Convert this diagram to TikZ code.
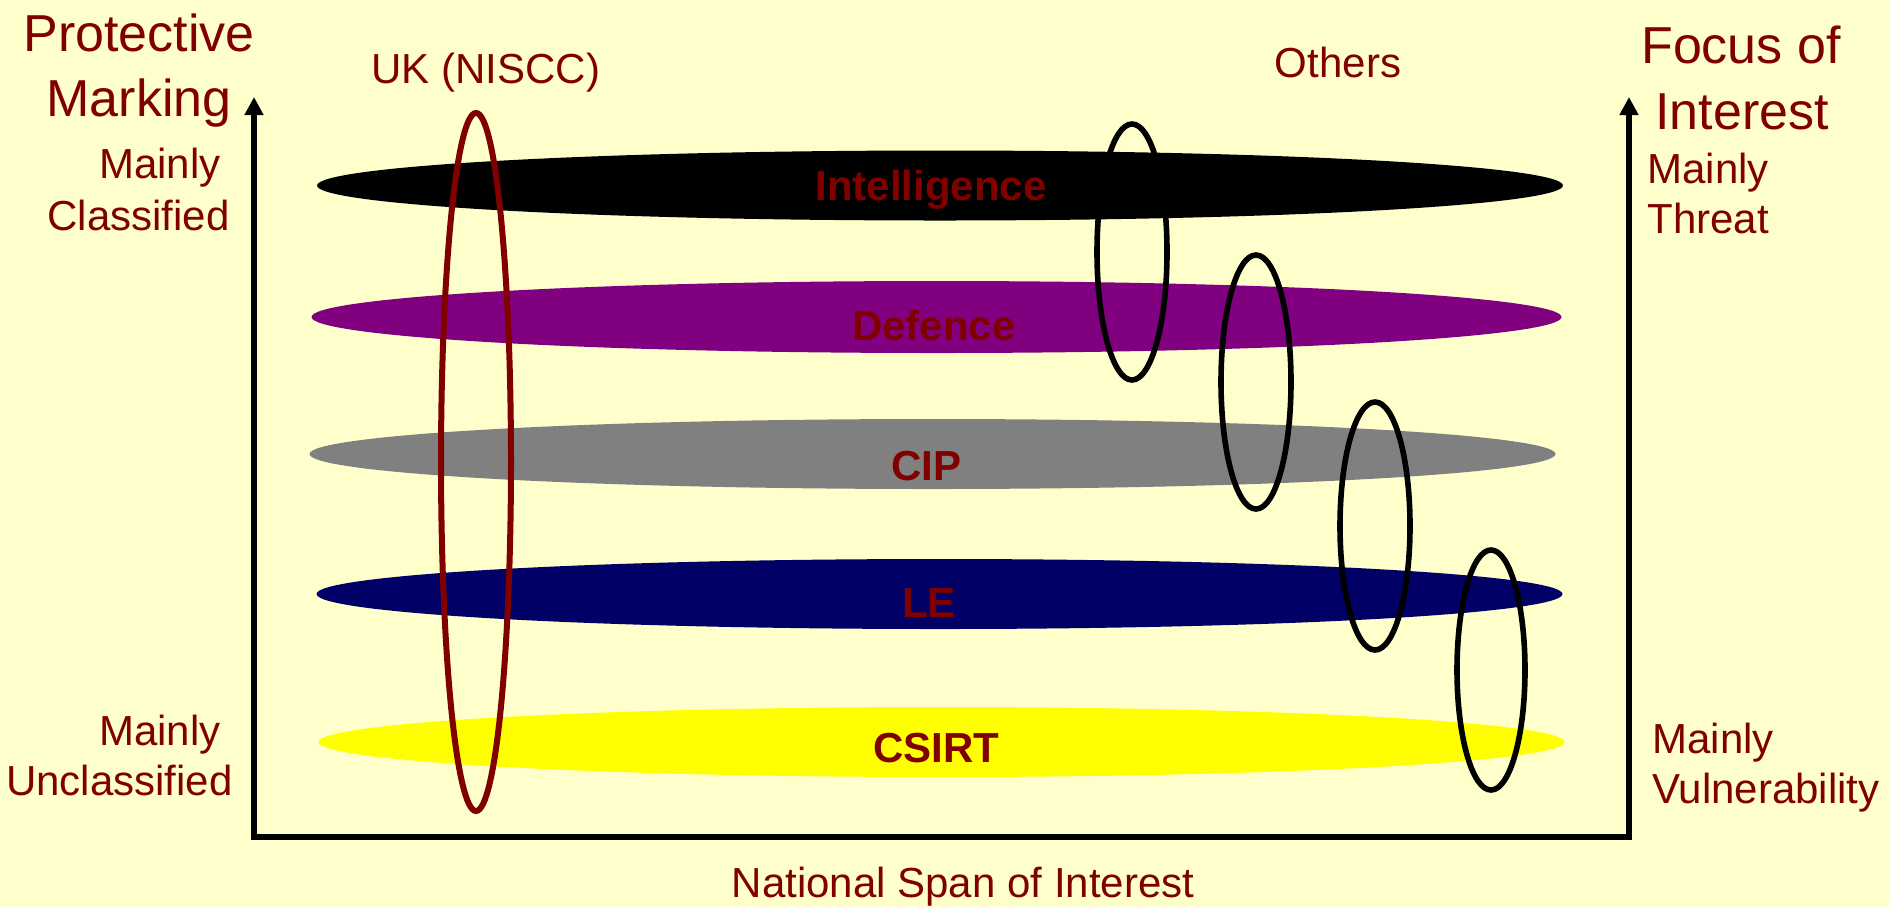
\documentclass[tikz,border=0pt]{standalone}
\usepackage{fontspec}
\setmainfont{Liberation Sans}
\usetikzlibrary{arrows.meta}
\definecolor{paper}{HTML}{FFFFCC}
\definecolor{darkred}{HTML}{800000}
\definecolor{defpurple}{HTML}{800080}
\definecolor{cipgray}{HTML}{808080}
\definecolor{lenavy}{HTML}{000066}
\definecolor{csirtyellow}{HTML}{FFFF00}
\tikzset{
  axisline/.style={line width=3pt, line join=miter,
    {Triangle[width=9pt,length=9pt]}-{Triangle[width=9pt,length=9pt]}},
  caption/.style={inner sep=0pt, text=darkred, font=\fontsize{21}{25}\selectfont},
  heading/.style={inner sep=0pt, text=darkred, font=\fontsize{26}{31}\selectfont},
  bandlabel/.style={inner sep=0pt, anchor=base, text=darkred, font=\fontsize{21}{25}\selectfont\bfseries},
  ring/.style={line width=2.8pt},
}
\begin{document}
\begin{tikzpicture}[x=0.5pt,y=-0.5pt]
\fill[paper] (0,0) rectangle (1889,907);
\useasboundingbox (0,0) rectangle (1889,907);

% horizontal bands
\fill[black]       (940,185.5) ellipse [x radius=311.5pt, y radius=17.5pt];
\fill[defpurple]   (936.5,317) ellipse [x radius=312.5pt, y radius=18pt];
\fill[cipgray]     (932.5,454) ellipse [x radius=311.5pt, y radius=17.5pt];
\fill[lenavy]      (939.5,594) ellipse [x radius=311.5pt, y radius=17.5pt];
\fill[csirtyellow] (941.5,742) ellipse [x radius=311.5pt, y radius=17.5pt];

% band labels
\node[bandlabel] (intel) at (931,200) {Intelligence};
\node[bandlabel] (defence) at (934,340) {Defence};
\node[bandlabel] (cip) at (926,480) {CIP};
\node[bandlabel] (le) at (929,617) {LE};
\node[bandlabel] (csirt) at (936,762) {CSIRT};

% national ring and the other rings
\draw[ring, line width=3pt, darkred] (476,462) ellipse [x radius=17.5pt, y radius=174.5pt];
\draw[ring, black] (1132,252) ellipse [x radius=17.5pt, y radius=64pt];
\draw[ring, black] (1256,382) ellipse [x radius=17.5pt, y radius=63.5pt];
\draw[ring, black] (1375,526) ellipse [x radius=17.5pt, y radius=62pt];
\draw[ring, black] (1491,670) ellipse [x radius=17pt, y radius=60pt];

% axes
\coordinate (origin) at (254,837);
\coordinate (ytop) at (254,97);
\coordinate (xend) at (1629,837);
\coordinate (ztop) at (1629,97);
\draw[axisline] (ytop) -- (origin) -- (xend) -- (ztop);

% left axis captions
\node[heading, anchor=base] (prot) at (139,51) {Protective};
\node[heading, anchor=base] (mark) at (139,116) {Marking};
\node[caption, anchor=base east] (mc1) at (221,178) {Mainly};
\node[caption, anchor=base east] (mc2) at (230,230) {Classified};
\node[caption, anchor=base east] (mu1) at (221,745) {Mainly};
\node[caption, anchor=base east] (mu2) at (233,795) {Unclassified};

% right axis captions
\node[heading, anchor=base] (foc1) at (1741,63) {Focus of};
\node[heading, anchor=base] (foc2) at (1742,129) {Interest};
\node[caption, anchor=base west] (mt1) at (1647,183) {Mainly};
\node[caption, anchor=base west] (mt2) at (1647,233) {Threat};
\node[caption, anchor=base west] (mv1) at (1652,753) {Mainly};
\node[caption, anchor=base west] (mv2) at (1652,803) {Vulnerability};

% ring captions
\node[caption, anchor=base] (uk) at (486,83) {UK (NISCC)};
\node[caption, anchor=base] (others) at (1338,77) {Others};

% bottom axis caption
\node[caption, anchor=base] (span) at (963,897) {National Span of Interest};
\end{tikzpicture}
\end{document}
